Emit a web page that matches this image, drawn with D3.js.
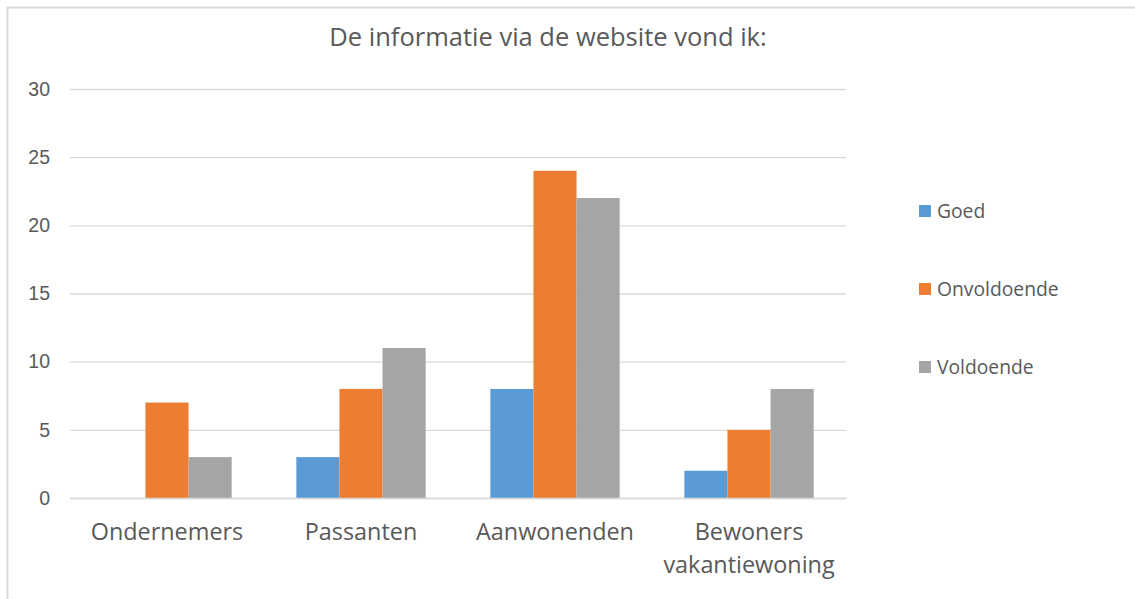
<!DOCTYPE html>
<html>
<head>
	<meta charset="utf-8">
	<title>De informatie via de website vond ik</title>
	<script src="https://cdn.jsdelivr.net/npm/d3@7"></script>
	<style type="text/css">
		body { margin: 0; background: #fff; }
		svg { display: block; font-family: "Open Sans", "Noto Sans", sans-serif; }
	</style>
</head>
<body>

	<svg width="1135" height="599" class="bar-chart"></svg>

	<script type="text/javascript">

		var categories = [['Ondernemers'], ['Passanten'], ['Aanwonenden'], ['Bewoners', 'vakantiewoning']]
		var category_keys = ['Ondernemers', 'Passanten', 'Aanwonenden', 'Bewoners vakantiewoning']
		var series_names = ['Goed', 'Onvoldoende', 'Voldoende']
		var series_colors = ['#5b9bd5', '#ed7d31', '#a5a5a5']
		var goed = [0, 3, 8, 2]
		var onvoldoende = [7, 8, 24, 5]
		var voldoende = [3, 11, 22, 8]
		var y_ticks = [0, 5, 10, 15, 20, 25, 30]

		var series_values = [goed, onvoldoende, voldoende]

		var svg = d3.select('.bar-chart')

		// chart border (left + top only visible)
		svg.append('path')
			.attr('d', 'M7.5,599 L7.5,7.5 L1135,7.5')
			.attr('fill', 'none')
			.attr('stroke', '#d9d9d9')
			.attr('stroke-width', 2)

		svg.append('text')
			.attr('x', 548)
			.attr('y', 46)
			.attr('text-anchor', 'middle')
			.attr('font-size', 25.5)
			.attr('fill', '#595959')
			.text('De informatie via de website vond ik:')

		var margin = {left: 70, right: 846, top: 89, bottom: 498}

		var x = d3.scaleBand()
			.domain(category_keys)
			.range([margin.left, margin.right])

		var x_inner = d3.scaleBand()
			.domain(series_names)
			.range([0, x.bandwidth()])
			.paddingOuter(0.75)
			.paddingInner(0)

		var y = d3.scaleLinear()
			.domain([0, 30])
			.range([margin.bottom, margin.top])

		// gridlines
		var yaxis = svg.append('g')
			.attr('transform', 'translate(' + margin.left + ',0)')
			.call(d3.axisLeft(y).tickValues(y_ticks).tickSize(-(margin.right - margin.left)).tickPadding(20))
		yaxis.select('.domain').remove()
		yaxis.selectAll('line').attr('stroke', '#d9d9d9').attr('stroke-width', 1.3)
		yaxis.selectAll('text')
			.attr('font-size', 19.5)
			.attr('fill', '#595959')
			.attr('font-family', null)

		var bars = []
		category_keys.forEach(function(c, i) {
			series_names.forEach(function(s, j) {
				bars.push({cat: c, series: s, value: series_values[j][i], color: series_colors[j]})
			})
		})

		svg.append('g')
			.selectAll('rect')
			.data(bars)
			.enter()
			.append('rect')
			.attr('x', function(d) { return x(d.cat) + x_inner(d.series) })
			.attr('y', function(d) { return y(d.value) })
			.attr('width', x_inner.bandwidth())
			.attr('height', function(d) { return y(0) - y(d.value) })
			.attr('fill', function(d) { return d.color })

		// category labels
		var xaxis = svg.append('g')
			.attr('transform', 'translate(0,' + margin.bottom + ')')
			.call(d3.axisBottom(x).tickSize(0).tickFormat(''))
		xaxis.select('.domain').attr('stroke', '#d9d9d9').attr('stroke-width', 1.3)

		svg.append('g')
			.selectAll('text')
			.data(categories)
			.enter()
			.append('text')
			.attr('x', function(d, i) { return x(category_keys[i]) + x.bandwidth() / 2 })
			.attr('y', 540)
			.attr('text-anchor', 'middle')
			.attr('font-size', 23.4)
			.attr('fill', '#595959')
			.each(function(d) {
				var t = d3.select(this)
				d.forEach(function(line, k) {
					t.append('tspan')
						.attr('x', t.attr('x'))
						.attr('dy', k === 0 ? 0 : 33)
						.text(line)
				})
			})

		// legend
		var legend = svg.append('g')
			.selectAll('g')
			.data(series_names)
			.enter()
			.append('g')
			.attr('transform', function(d, i) { return 'translate(919,' + (205 + i * 78) + ')' })

		legend.append('rect')
			.attr('width', 12)
			.attr('height', 12)
			.attr('fill', function(d, i) { return series_colors[i] })

		legend.append('text')
			.attr('x', 18)
			.attr('y', 13)
			.attr('font-size', 19.3)
			.attr('fill', '#595959')
			.text(function(d) { return d })

	</script>

</body>
</html>
